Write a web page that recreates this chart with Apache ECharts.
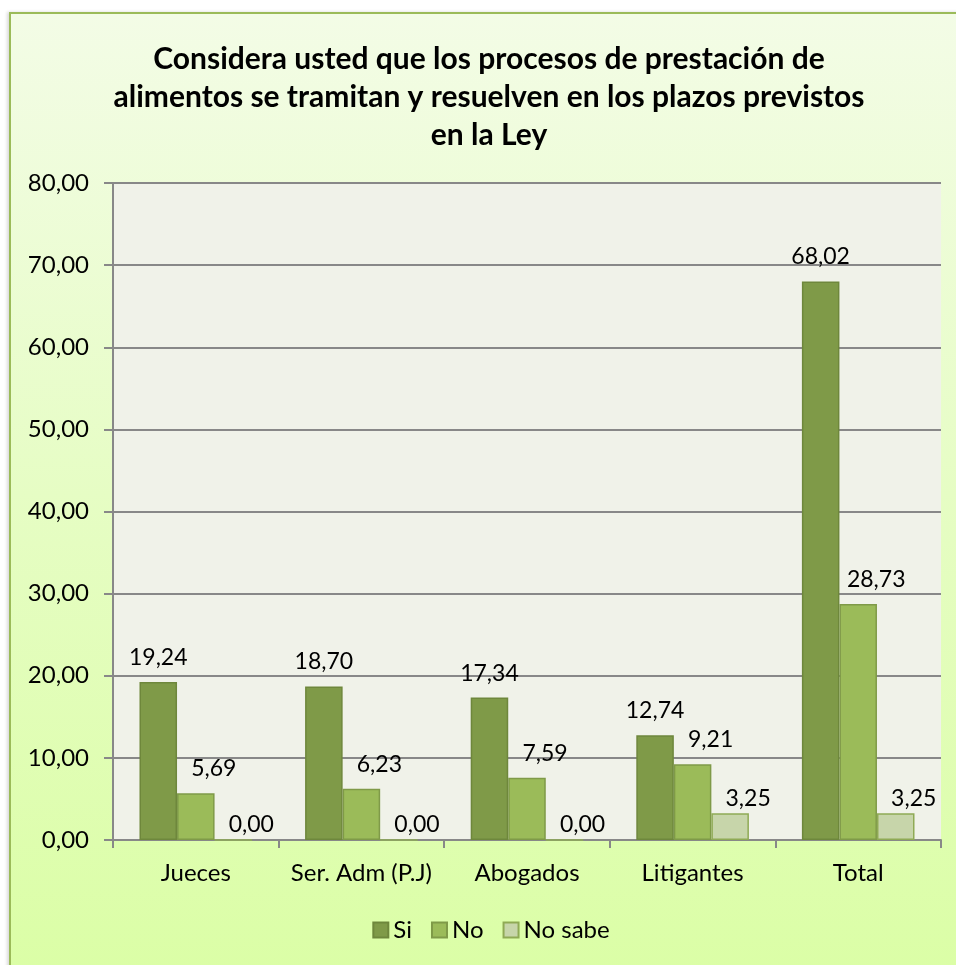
<!DOCTYPE html>
<html>
<head>
<meta charset="utf-8">
<script src="https://cdn.jsdelivr.net/npm/echarts@6/dist/echarts.min.js"></script>
<style>
  html, body { margin: 0; padding: 0; background: #ffffff; }
  #wrap { position: relative; width: 956px; height: 965px; overflow: hidden; }
  #chart {
    position: absolute; left: 9px; top: 12px; width: 960px; height: 960px;
    border-left: 2px solid #9BBB59; border-top: 2px solid #9BBB59;
    background: linear-gradient(to bottom, #F3FCE6 0%, #E6FDC4 50%, #DBFEA6 100%);
    box-shadow: -2px 0 3px rgba(0,0,0,0.15);
  }
</style>
</head>
<body>
<div id="wrap"><div id="chart"></div></div>
<script>
const categories = ["Jueces", "Ser. Adm (P.J)", "Abogados", "Litigantes", "Total"];
const seriesNames = ["Si", "No", "No sabe"];
const siValues = [19.24, 18.70, 17.34, 12.74, 68.02];
const noValues = [5.69, 6.23, 7.59, 9.21, 28.73];
const noSabeValues = [0.00, 0.00, 0.00, 3.25, 3.25];
const yTicks = { min: 0, max: 80, interval: 10 };
const titleText = "Considera usted que los procesos de prestación de\nalimentos se tramitan y resuelven en los plazos previstos\nen la Ley";

const fmt = v => Number(v).toFixed(2).replace('.', ',');
const fontFam = "Lato, 'Open Sans', sans-serif";

const chart = echarts.init(document.getElementById('chart'), null, { renderer: 'canvas' });

function barSeries(name, data, color, border, labelOffset, labelDist) {
  return {
    name: name,
    type: 'bar',
    data: data,
    barGap: '0%',
    barCategoryGap: '32%',
    itemStyle: { color: color, borderColor: border, borderWidth: 1.5 },
    label: {
      show: true, position: 'top', distance: labelDist, offset: labelOffset,
      formatter: p => fmt(p.value),
      fontFamily: fontFam, fontSize: 23, color: '#000'
    }
  };
}

chart.setOption({
  backgroundColor: 'transparent',
  animation: false,
  title: {
    text: titleText,
    left: 473, textAlign: 'center', top: 21,
    textStyle: { fontFamily: fontFam, fontWeight: 'bold', fontSize: 30, lineHeight: 38, color: '#000' }
  },
  grid: { left: 102, top: 169, width: 828, height: 657, containLabel: false,
          show: true, backgroundColor: '#F0F2E9', borderWidth: 0 },
  legend: {
    data: seriesNames, left: 'center',
    top: 899,
    itemWidth: 15, itemHeight: 15, itemGap: 19,
    icon: 'rect',
    textStyle: { fontFamily: fontFam, fontSize: 24, color: '#000' }
  },
  xAxis: {
    type: 'category', data: categories,
    axisLine: { show: true, lineStyle: { color: '#888', width: 2 } },
    axisTick: { show: true, alignWithLabel: false, length: 8, lineStyle: { color: '#888', width: 2 } },
    axisLabel: { interval: 0, fontFamily: fontFam, fontSize: 24, color: '#000', margin: 21 }
  },
  yAxis: {
    type: 'value', min: yTicks.min, max: yTicks.max, interval: yTicks.interval,
    axisLine: { show: true, lineStyle: { color: '#888', width: 2 } },
    axisTick: { show: true, length: 9, lineStyle: { color: '#888', width: 2 } },
    splitLine: { show: true, lineStyle: { color: '#888', width: 2 } },
    axisLabel: { fontFamily: fontFam, fontSize: 24, color: '#000', margin: 24, formatter: v => fmt(v) }
  },
  series: [
    barSeries(seriesNames[0], siValues, '#7F9A48', '#6E873C', [0, 0], 13),
    barSeries(seriesNames[1], noValues, '#9BBB59', '#7F9A48', [18, 0], 13),
    barSeries(seriesNames[2], noSabeValues, '#C7D5AA', '#8FAA55', [18, 0], 3)
  ]
});
</script>
</body>
</html>
